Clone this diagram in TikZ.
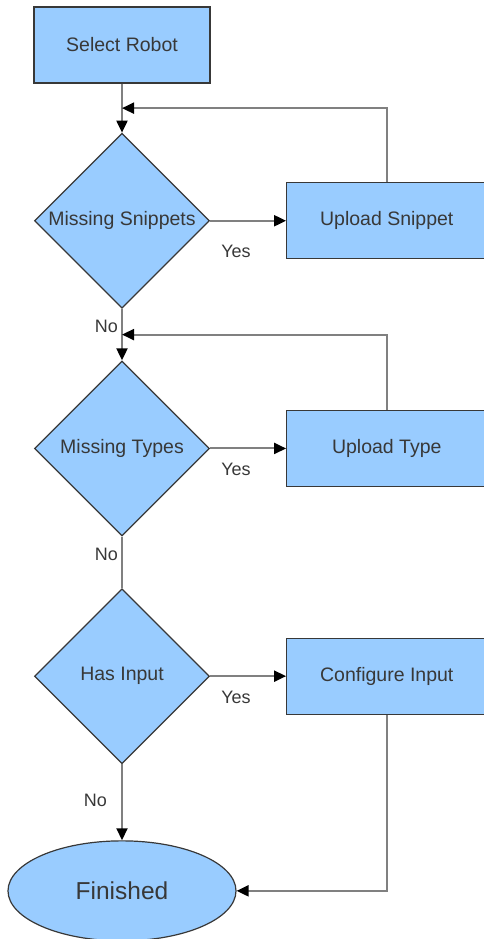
\documentclass[tikz,border=0pt]{standalone}
\usepackage{fontspec}
\setmainfont{Liberation Sans}
\usetikzlibrary{positioning,arrows.meta,shapes.geometric,calc}
\definecolor{boxblue}{HTML}{99CCFF}
\definecolor{edgegray}{HTML}{383838}
\definecolor{wiregray}{HTML}{808080}

\begin{document}
\begin{tikzpicture}[x=1pt,y=1pt,font=\fontsize{19.5}{23}\selectfont,
  >={Triangle[length=12pt,width=11pt,black]},
  box/.style={draw=edgegray,line width=1.3pt,fill=boxblue,text=edgegray,
              minimum width=176pt,minimum height=76pt,inner sep=2pt},
  side/.style={box,minimum width=200pt},
  dec/.style={diamond,aspect=1,draw=edgegray,line width=1.2pt,fill=boxblue,
              text=edgegray,minimum width=175pt,minimum height=175pt,inner sep=1pt},
  term/.style={ellipse,draw=edgegray,line width=1.2pt,fill=boxblue,text=edgegray,
              minimum width=228pt,minimum height=100pt,inner sep=0pt,
              font=\fontsize{24.5}{28}\selectfont},
  wire/.style={draw=wiregray,line width=2pt},
  lbl/.style={text=edgegray,font=\fontsize{18}{21}\selectfont,inner sep=3pt}]
 \clip (0,0) rectangle (484,-939);
 \node[box] (robot) at (122,-45) {Select Robot};
 \node[dec,below=49pt of robot] (snip) {Missing Snippets};
 \node[side,right=76pt of snip] (upsnip) {Upload Snippet};
 \node[dec,below=51.5pt of snip] (types) {Missing Types};
 \node[side,right=76pt of types] (uptype) {Upload Type};
 \node[dec,below=51.5pt of types] (hasin) {Has Input};
 \node[side,right=76pt of hasin] (config) {Configure Input};
 \node[term,below=76pt of hasin] (fin) {Finished};
 \coordinate (j1) at ($(robot.south)!0.5!(snip.north)$);
 \coordinate (j2) at ($(snip.south)!0.5!(types.north)$);
 % main column
 \draw[wire,->] (robot) -- (snip);
 \draw[wire,->] (snip) -- node[lbl,pos=0.35,left]{No} (types);
 \draw[wire] (types) -- node[lbl,pos=0.35,left]{No} (hasin);
 \draw[wire,->] (hasin) -- node[lbl,pos=0.47,left=11pt]{No} (fin);
 % yes branches
 \draw[wire,->] (snip) -- node[lbl,pos=0.34,below=20pt]{Yes} (upsnip);
 \draw[wire,->] (types) -- node[lbl,pos=0.34,below=11pt]{Yes} (uptype);
 \draw[wire,->] (hasin) -- node[lbl,pos=0.34,below=11pt]{Yes} (config);
 \draw[wire,->] (upsnip.north) |- (j1);
 \draw[wire,->] (uptype.north) |- (j2);
 \draw[wire,->] (config) |- (fin);
\end{tikzpicture}
\end{document}
